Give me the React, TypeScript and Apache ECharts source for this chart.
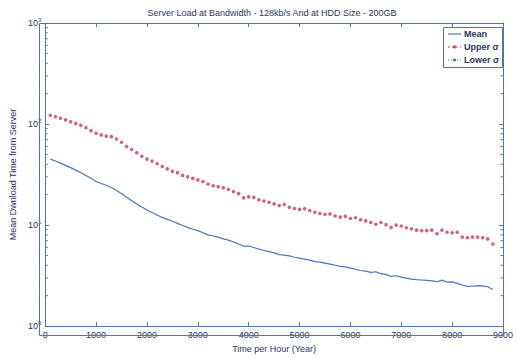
import React, { useEffect, useRef } from "react";
import * as echarts from "echarts";

const hours: number[] = [];
for (let h = 100; h <= 8800; h += 100) hours.push(h);

const meanValues = [
  45, 43, 41, 39, 37, 35, 33, 31, 29, 27,
  25.8, 24.8, 23.5, 22, 20.5, 18.8, 17.4, 16.2, 15.1, 14.1,
  13.3, 12.6, 11.9, 11.4, 10.9, 10.4, 9.9, 9.5, 9.1, 8.8,
  8.4, 8.0, 7.8, 7.6, 7.3, 7.1, 6.8, 6.5, 6.2, 6.2,
  6.0, 5.8, 5.6, 5.45, 5.3, 5.1, 5.05, 4.95, 4.8, 4.7,
  4.6, 4.5, 4.35, 4.3, 4.2, 4.1, 4.0, 3.9, 3.85, 3.75,
  3.65, 3.55, 3.5, 3.4, 3.45, 3.3, 3.25, 3.1, 3.15, 3.05,
  2.98, 2.92, 2.88, 2.86, 2.84, 2.8, 2.75, 2.85, 2.72, 2.74,
  2.65, 2.55, 2.47, 2.48, 2.52, 2.5, 2.45, 2.3,
];

const upperValues = [
  122, 118, 114, 110, 105, 101, 97, 92, 86, 81,
  78, 76, 75, 71, 66, 60, 56, 52, 48, 45,
  43, 40.5, 38, 36, 34, 33, 31, 30, 29, 28,
  27, 25.5, 24.5, 24, 23.5, 22.5, 21.5, 20.5, 18.6, 19.0,
  18.8, 17.8, 17.3, 16.8, 16.2, 15.6, 16.0, 15.0, 14.6, 14.3,
  14.5, 13.9, 13.4, 13.0, 12.8, 12.9, 12.3, 12.0, 12.2, 11.6,
  11.8, 11.3, 11.0, 10.6, 10.2, 10.6, 10.1, 9.5, 10.0, 9.8,
  9.4, 9.2, 8.9, 8.8, 8.8, 8.9, 8.2, 8.9, 8.5, 8.4,
  8.5, 7.6, 7.5, 7.6, 7.6, 7.5, 7.3, 6.5,
];

const lowerValues: number[] = [];

const xTicks = [0, 1000, 2000, 3000, 4000, 5000, 6000, 7000, 8000, 9000];
const yDecades = [1, 10, 100, 1000];
const minorTickValues = [
  2, 3, 4, 5, 6, 7, 8, 9,
  20, 30, 40, 50, 60, 70, 80, 90,
  200, 300, 400, 500, 600, 700, 800, 900,
];

const TITLE = "Server Load at Bandwidth - 128kb/s And at HDD Size - 200GB";
const X_NAME = "Time per Hour (Year)";
const Y_NAME = "Mean Dwnload Time from Server";

const AXIS = "#4f72b8";
const TEXT = "#2a3566";
const BLUE = "#4a74c2";
const RED = "#c8466e";
const FONT = "Liberation Sans";

export default function App() {
  const ref = useRef<HTMLDivElement>(null);
  useEffect(() => {
    document.body.style.margin = "0";
    const chart = echarts.init(ref.current!, null, { renderer: "svg" });
    const G = { left: 39, right: 15, top: 23, bottom: 23 };
    const W = 518;
    const H = 358;
    const labelStyle = {
      fontFamily: FONT,
      fontSize: 9,
      color: TEXT,
    };
    const xCommon = {
      type: "value",
      min: xTicks[0],
      max: xTicks[xTicks.length - 1],
      interval: 1000,
      axisLine: { show: true, onZero: false, lineStyle: { color: AXIS, width: 1 } },
      axisTick: { show: true, inside: true, length: 4, lineStyle: { color: AXIS } },
      splitLine: { show: false },
    };
    const yCommon = {
      type: "log",
      logBase: 10,
      min: yDecades[0],
      max: yDecades[yDecades.length - 1],
      axisLine: { show: true, onZero: false, lineStyle: { color: AXIS, width: 1 } },
      axisTick: { show: true, inside: true, length: 4, lineStyle: { color: AXIS } },
      splitLine: { show: false },
    };
    chart.setOption({
      animation: false,
      backgroundColor: "#ffffff",
      grid: { ...G, containLabel: false },
      xAxis: [
        {
          ...xCommon,
          position: "bottom",
          axisLabel: { ...labelStyle, margin: 4, formatter: (v: number) => String(v) },
          name: X_NAME,
          nameLocation: "middle",
          nameGap: 14,
          nameTextStyle: { ...labelStyle },
        },
        {
          ...xCommon,
          position: "top",
          axisLabel: { show: false },
        },
      ],
      yAxis: [
        {
          ...yCommon,
          position: "left",
          axisLabel: {
            margin: 4,
            formatter: (v: number) =>
              `{b|10}{s|${Math.round(Math.log10(v))}}`,
            rich: {
              b: { fontFamily: FONT, fontSize: 9, color: TEXT },
              s: {
                fontFamily: FONT,
                fontSize: 6,
                color: TEXT,
                verticalAlign: "bottom",
                padding: [0, 0, 6, 0],
              },
            },
          },
          name: Y_NAME,
          nameLocation: "middle",
          nameGap: 22,
          nameTextStyle: { ...labelStyle },
        },
        {
          ...yCommon,
          position: "right",
          axisLabel: { show: false },
        },
      ],
      series: [
        {
          name: "Mean",
          type: "line",
          data: hours.map((h, i) => [h, meanValues[i]]),
          showSymbol: false,
          lineStyle: { color: BLUE, width: 1.2 },
          z: 3,
        },
        {
          name: "Upper σ",
          type: "scatter",
          data: hours.map((h, i) => [h, upperValues[i]]),
          symbol: "circle",
          symbolSize: 3.6,
          itemStyle: { color: RED, opacity: 0.85 },
          z: 4,
        },
        {
          name: "Lower σ",
          type: "scatter",
          data: lowerValues.map((v, i) => [hours[i], v]),
          symbolSize: 3.6,
          itemStyle: { color: BLUE },
        },
        {
          name: "minorTicks",
          type: "custom",
          data: minorTickValues.map((v) => [0, v]),
          silent: true,
          clip: false,
          renderItem: (params: any, api: any) => {
            const cs = params.coordSys;
            const y = api.coord([0, api.value(1)])[1];
            const style = { stroke: AXIS, lineWidth: 1 };
            return {
              type: "group",
              children: [
                { type: "line", shape: { x1: cs.x, y1: y, x2: cs.x + 2.5, y2: y }, style },
                {
                  type: "line",
                  shape: { x1: cs.x + cs.width - 2.5, y1: y, x2: cs.x + cs.width, y2: y },
                  style,
                },
              ],
            };
          },
        },
      ],
      graphic: [
        {
          type: "rect",
          shape: {
            x: G.left + 0.5,
            y: G.top + 0.5,
            width: W - G.left - G.right,
            height: H - G.top - G.bottom,
          },
          style: { fill: "none", stroke: AXIS, lineWidth: 1 },
          silent: true,
          z: 5,
        },
        {
          type: "text",
          x: 272,
          y: 13,
          style: {
            text: TITLE,
            fontFamily: FONT,
            fontSize: 9,
            fill: TEXT,
            align: "center",
            verticalAlign: "middle",
          },
        },
        {
          type: "rect",
          shape: { x: 443.5, y: 27.5, width: 59, height: 40 },
          style: { fill: "#ffffff", stroke: AXIS, lineWidth: 1 },
          z: 10,
        },
        {
          type: "line",
          shape: { x1: 448, y1: 34, x2: 461, y2: 34 },
          style: { stroke: BLUE, lineWidth: 1.2 },
          z: 11,
        },
        {
          type: "line",
          shape: { x1: 448, y1: 47, x2: 461, y2: 47 },
          style: { stroke: RED, lineWidth: 1, lineDash: [2, 2] },
          z: 11,
        },
        {
          type: "circle",
          shape: { cx: 454.5, cy: 47, r: 1.6 },
          style: { fill: RED },
          z: 11,
        },
        {
          type: "line",
          shape: { x1: 448, y1: 60, x2: 461, y2: 60 },
          style: { stroke: BLUE, lineWidth: 1, lineDash: [1, 2] },
          z: 11,
        },
        {
          type: "circle",
          shape: { cx: 454.5, cy: 60, r: 1.6 },
          style: { fill: BLUE },
          z: 11,
        },
        ...["Mean", "Upper σ", "Lower σ"].map((t, i) => ({
          type: "text",
          x: 464,
          y: 34 + i * 13,
          z: 11,
          style: {
            text: t,
            fontFamily: FONT,
            fontSize: 9,
            fontWeight: "bold",
            fill: TEXT,
            verticalAlign: "middle",
            width: 38,
            overflow: "truncate",
            ellipsis: "",
          },
        })),
      ],
    });
    return () => chart.dispose();
  }, []);
  return <div ref={ref} style={{ width: 518, height: 358 }} />;
}
